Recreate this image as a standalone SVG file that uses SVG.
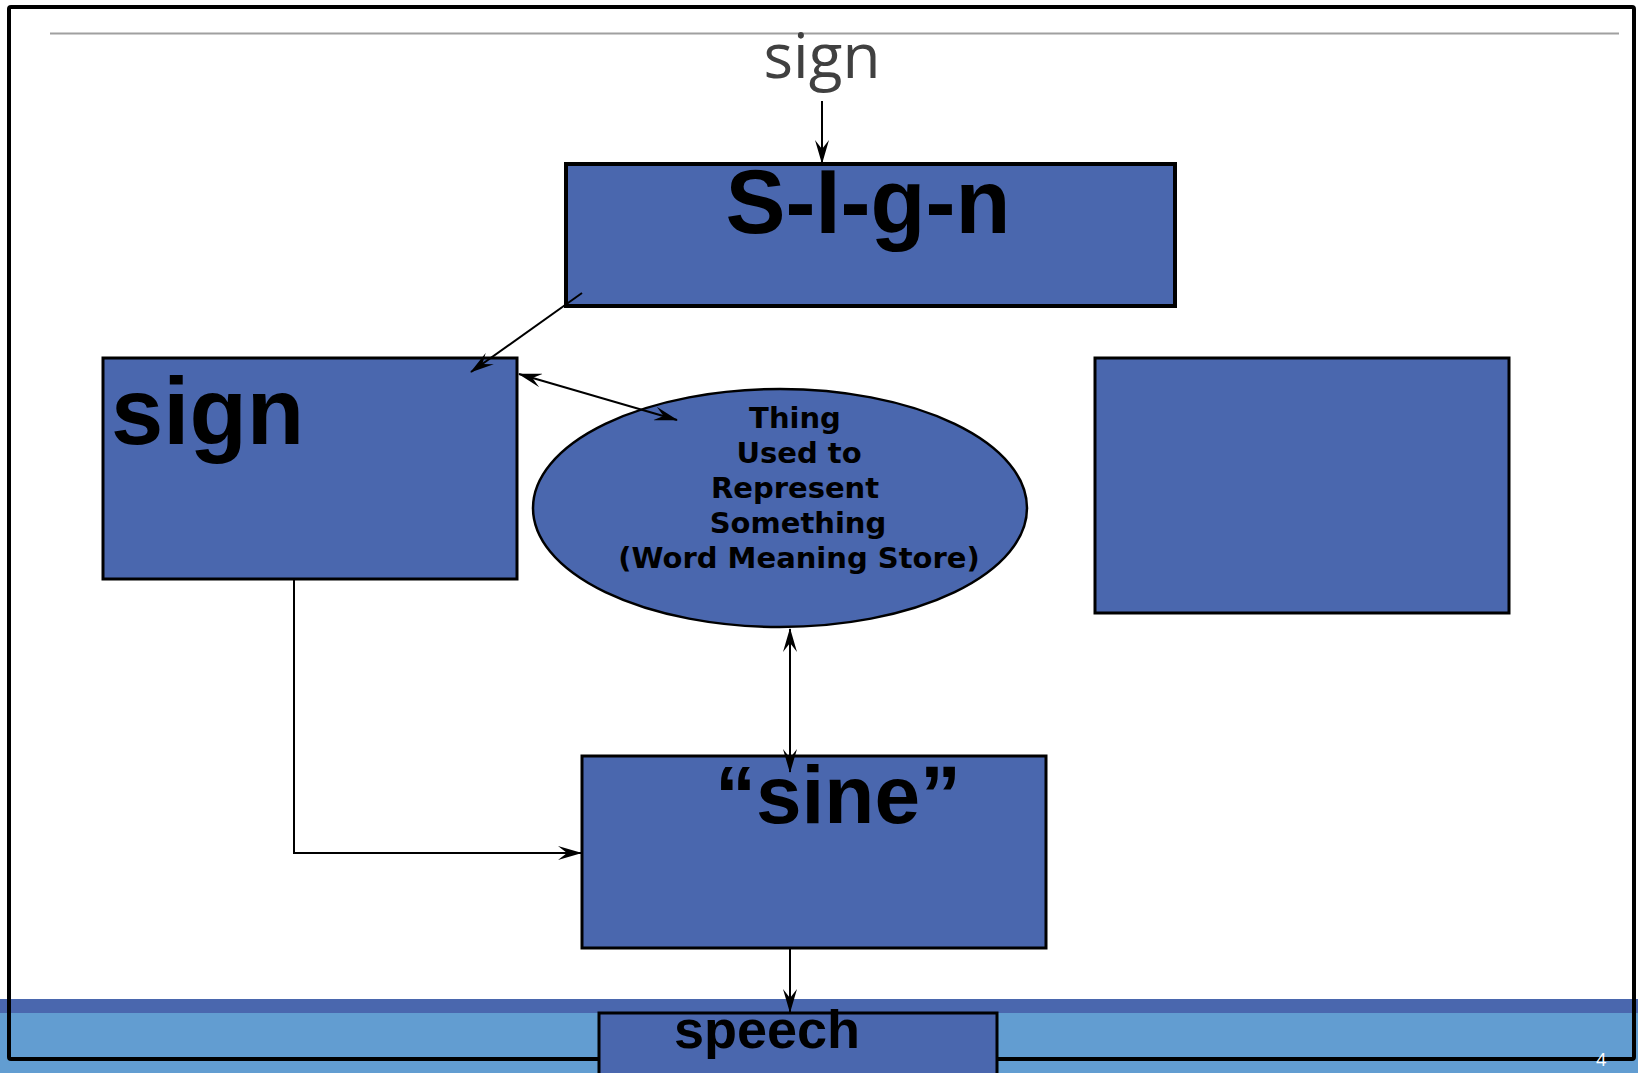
<svg xmlns="http://www.w3.org/2000/svg" width="1638" height="1073" viewBox="0 0 1638 1073">
  <style>
    .box { fill: #4A67AE; stroke: #000; stroke-width: 3; }
    .big { font-family: "Liberation Sans", Arial, sans-serif; font-weight: bold; fill: #000; }
    .ell { font-family: "DejaVu Sans", Verdana, sans-serif; font-weight: bold; font-size: 29px; fill: #000; text-anchor: middle; }
    .conn { stroke: #000; stroke-width: 2; fill: none; }
  </style>
  <defs>
    <marker id="ah" viewBox="0 0 24 14" refX="23" refY="7" markerWidth="24" markerHeight="14" markerUnits="userSpaceOnUse" orient="auto-start-reverse">
      <path d="M0,0 L24,7 L0,14 L9,7 z" fill="#000"/>
    </marker>
  </defs>
  <rect x="0" y="0" width="1638" height="1073" fill="#fff"/>
  <g id="footer-bands">
    <rect x="0" y="999" width="1638" height="14" fill="#4A67AE"/>
    <rect x="0" y="1013" width="1638" height="60" fill="#629DD1"/>
  </g>
  <g id="frame">
    <rect x="9" y="7" width="1625" height="1052" rx="2" fill="none" stroke="#000" stroke-width="4"/>
    <line x1="50" y1="33.5" x2="1619" y2="33.5" stroke="#A0A0A0" stroke-width="2"/>
  </g>
  <g id="title">
    <text x="822" y="78" font-family="'Open Sans', 'Noto Sans', sans-serif" font-weight="normal" font-size="62" fill="#404040" text-anchor="middle">sign</text>
  </g>
  <g id="node-SIgn">
    <rect x="566" y="164" width="609" height="142" fill="#4A67AE" stroke="#000" stroke-width="4"/>
    <text class="big" x="868" y="233" font-size="90" text-anchor="middle">S-I-g-n</text>
  </g>
  <g id="node-sign">
    <rect class="box" x="103" y="358" width="414" height="221"/>
    <text class="big" x="111" y="444" font-size="94">sign</text>
  </g>
  <g id="node-thing">
    <ellipse cx="780" cy="508" rx="247" ry="119" fill="#4A67AE" stroke="#000" stroke-width="2.5"/>
    <text class="ell" x="795" y="428">Thing</text>
    <text class="ell" x="799" y="463">Used to</text>
    <text class="ell" x="795" y="498">Represent</text>
    <text class="ell" x="798" y="533">Something</text>
    <text class="ell" x="799" y="568">(Word Meaning Store)</text>
  </g>
  <g id="node-right">
    <rect class="box" x="1095" y="358" width="414" height="255"/>
  </g>
  <g id="node-sine">
    <rect class="box" x="582" y="756" width="464" height="192"/>
    <text class="big" x="838" y="823" font-size="82" text-anchor="middle">“sine”</text>
  </g>
  <g id="node-speech">
    <rect class="box" x="599" y="1013" width="398" height="80"/>
    <text class="big" x="767" y="1048" font-size="54" text-anchor="middle">speech</text>
  </g>
  <g id="connectors">
    <line class="conn" x1="822" y1="101" x2="822" y2="163" marker-end="url(#ah)"/>
    <line class="conn" x1="582" y1="293" x2="471" y2="372" marker-end="url(#ah)"/>
    <line class="conn" x1="519" y1="374" x2="677" y2="420" marker-start="url(#ah)" marker-end="url(#ah)"/>
    <line class="conn" x1="790" y1="629" x2="790" y2="772" marker-start="url(#ah)" marker-end="url(#ah)"/>
    <polyline class="conn" points="294,579 294,853 581,853" marker-end="url(#ah)"/>
    <line class="conn" x1="790" y1="948" x2="790" y2="1012" marker-end="url(#ah)"/>
  </g>
  <text x="1596" y="1066" font-family="'Open Sans', 'Liberation Sans', sans-serif" font-size="18" fill="#fff">4</text>
</svg>
